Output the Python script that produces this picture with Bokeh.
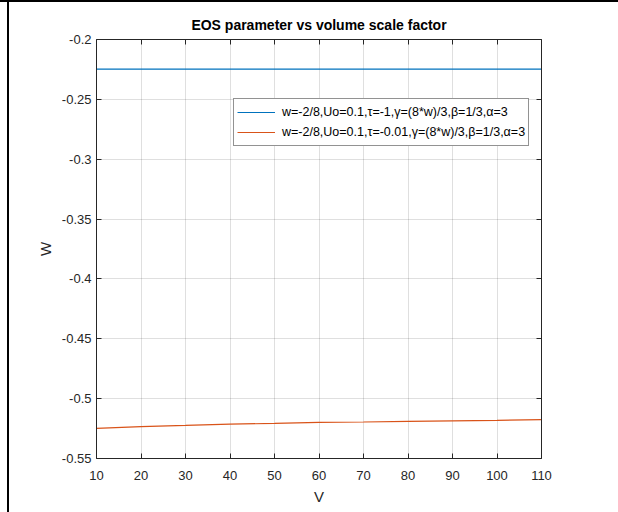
from bokeh.plotting import figure
from bokeh.models import (LinearAxis, FixedTicker, Legend, LegendItem, Range1d,
                          CustomJSTickFormatter)
from bokeh.embed import file_html
from bokeh.resources import INLINE

# ---- data ----
V = [10, 20, 30, 40, 50, 60, 70, 80, 90, 100, 110]
w_tau_m1 = [-0.2248, -0.2248, -0.2248, -0.2248, -0.2248, -0.2248,
            -0.2248, -0.2248, -0.2248, -0.2248, -0.2248]
w_tau_m001 = [-0.5249, -0.5233, -0.5224, -0.5213, -0.5207, -0.5199,
              -0.5195, -0.5190, -0.5185, -0.5181, -0.5175]
x_ticks = [10, 20, 30, 40, 50, 60, 70, 80, 90, 100, 110]
y_ticks = [-0.55, -0.5, -0.45, -0.4, -0.35, -0.3, -0.25, -0.2]
y_tick_labels = ["-0.55", "-0.5", "-0.45", "-0.4", "-0.35", "-0.3", "-0.25", "-0.2"]
labels = [
    "w=-2/8,Uo=0.1,\u03c4=-1,\u03b3=(8*w)/3,\u03b2=1/3,\u03b1=3",
    "w=-2/8,Uo=0.1,\u03c4=-0.01,\u03b3=(8*w)/3,\u03b2=1/3,\u03b1=3",
]
colors = ["#0072BD", "#D95319"]

FONT = "Liberation Sans"
TXT = "#262626"

p = figure(width=618, height=512, output_backend="svg", toolbar_location=None,
           x_range=Range1d(10, 110), y_range=Range1d(-0.55, -0.2),
           min_border_left=96, min_border_right=77, min_border_top=39,
           min_border_bottom=54)
# window-frame edges seen in the reference screenshot (drawn behind a transparent border)
p.border_fill_color = None
p.background_fill_color = "#ffffff"
p.styles = {
    "background-color": "#ffffff",
    "background-image": ("linear-gradient(to bottom, #000 0px, #000 2px, transparent 2px), "
                         "linear-gradient(to right, transparent 0px, transparent 7px, "
                         "#000 7px, #000 9px, transparent 9px)"),
}

p.title.text = "EOS parameter vs volume scale factor"
p.title.align = "center"
p.title.text_font = FONT
p.title.text_font_size = "14px"
p.title.text_font_style = "bold"
p.title.text_color = "#000000"
p.title.standoff = 14

p.outline_line_color = None

r1 = p.line(V, w_tau_m1, line_color=colors[0], line_width=1.2)
r2 = p.line(V, w_tau_m001, line_color=colors[1], line_width=1.2)

def style_axis(ax):
    ax.axis_line_color = TXT
    ax.axis_line_width = 1
    ax.major_tick_line_color = TXT
    ax.major_tick_in = 5
    ax.major_tick_out = 0
    ax.minor_tick_line_color = None
    ax.major_label_text_font = FONT
    ax.major_label_text_color = TXT
    ax.major_label_text_font_size = "13px"
    ax.axis_label_text_font = FONT
    ax.axis_label_text_color = TXT
    ax.axis_label_text_font_size = "15px"
    ax.axis_label_text_font_style = "normal"

xa = p.xaxis[0]
ya = p.yaxis[0]
xa.ticker = FixedTicker(ticks=x_ticks)
ya.ticker = FixedTicker(ticks=y_ticks)
ya.major_label_overrides = {t: l for t, l in zip(y_ticks, y_tick_labels)}
style_axis(xa)
style_axis(ya)
xa.axis_label = "V"
ya.axis_label = "W"
xa.major_label_standoff = 12
xa.axis_label_standoff = 5
ya.major_label_standoff = 5
ya.axis_label_standoff = 5

blank = CustomJSTickFormatter(code="return ''")
top = LinearAxis(ticker=FixedTicker(ticks=x_ticks), formatter=blank, major_label_standoff=0)
right = LinearAxis(ticker=FixedTicker(ticks=y_ticks), formatter=blank, major_label_standoff=0)
style_axis(top)
style_axis(right)
p.add_layout(top, "above")
p.add_layout(right, "right")

p.xgrid.ticker = FixedTicker(ticks=x_ticks)
p.ygrid.ticker = FixedTicker(ticks=y_ticks)
p.grid.grid_line_color = "#262626"
p.grid.grid_line_alpha = 0.15
p.grid.grid_line_width = 1

legend = Legend(items=[LegendItem(label=labels[0], renderers=[r1]),
                       LegendItem(label=labels[1], renderers=[r2])],
                location=(137, 312))
legend.label_text_font = FONT
legend.label_text_font_size = "12.5px"
legend.label_text_color = "#000000"
legend.glyph_width = 38
legend.glyph_height = 20
legend.label_height = 20
legend.label_standoff = 7
legend.spacing = 0
legend.padding = 3
legend.margin = 0
legend.border_line_color = TXT
legend.border_line_width = 1
legend.background_fill_color = "#ffffff"
legend.background_fill_alpha = 1
p.add_layout(legend, "center")

open("out.html", "w").write(file_html(p, INLINE))
